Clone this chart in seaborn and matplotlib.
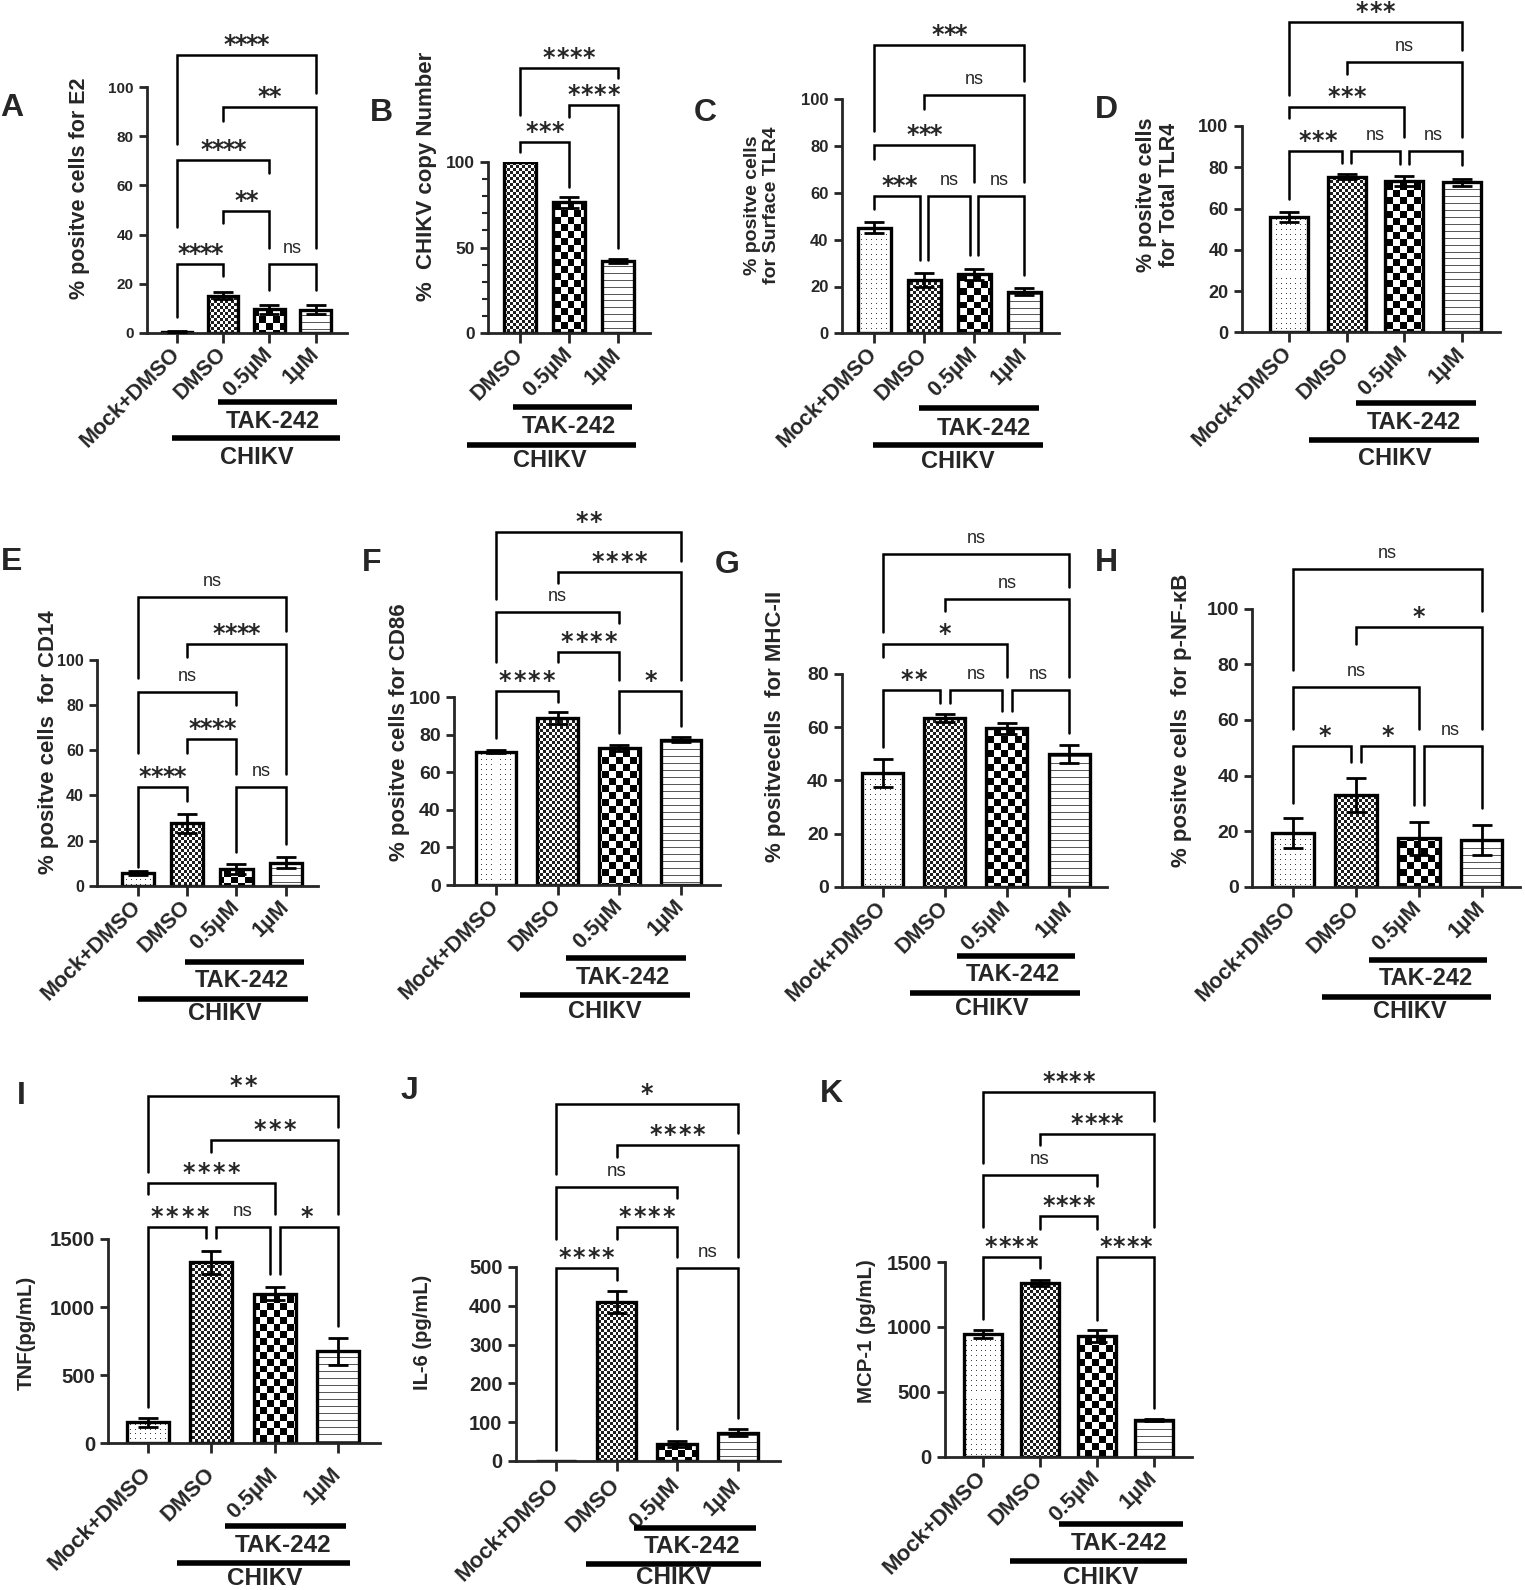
import numpy as np
import matplotlib
matplotlib.use('Agg')
import matplotlib.pyplot as plt
from matplotlib.transforms import ScaledTranslation
from matplotlib.ticker import MultipleLocator
import seaborn as sns

# groups on the x axis
groups4 = ['Mock+DMSO', 'DMSO', '0.5µM', '1µM']
groups3 = ['DMSO', '0.5µM', '1µM']

# values (mean and error bar)
e2_mean = [0.3, 15.2, 9.6, 9.5]
e2_err = [0.4, 1.4, 1.8, 1.8]
chikv_mean = [100, 76.4, 42.3]
chikv_err = [0, 3.2, 1.2]
stlr4_mean = [45.1, 22.8, 25.2, 17.8]
stlr4_err = [2.3, 2.8, 2.4, 1.4]
ttlr4_mean = [56.0, 75.4, 73.5, 72.7]
ttlr4_err = [2.5, 1.3, 2.4, 1.6]
cd14_mean = [5.5, 27.6, 7.4, 10.2]
cd14_err = [0.8, 4.2, 2.2, 2.4]
cd86_mean = [71.1, 88.8, 73.1, 77.5]
cd86_err = [1.0, 3.2, 1.5, 1.5]
mhc_mean = [42.7, 63.3, 59.6, 49.8]
mhc_err = [5.2, 1.5, 2.1, 3.4]
nfkb_mean = [19.2, 33.0, 17.4, 16.8]
nfkb_err = [5.4, 6.2, 6.0, 5.4]
tnf_mean = [154, 1330, 1099, 677]
tnf_err = [34, 85, 46, 100]
il6_mean = [0, 409, 44, 73]
il6_err = [0, 28, 8, 9]
mcp_mean = [946, 1338, 927, 284]
mcp_err = [33, 22, 46, 8]

# significance brackets: (bar i, bar j, line height, left leg end, right leg end, label)
sig_A = [(0, 1, 28, 6.6, 23, '****'), (2, 3, 28, 17.5, 17.5, 'ns'), (1, 2, 49.6, 44.7, 34.5, '**'),
         (0, 2, 70.3, 43, 65, '****'), (1, 3, 91.9, 86, 34.5, '**'), (0, 3, 113, 76.8, 97.7, '****')]
sig_B = [(0, 1, 111.7, 105.8, 85.4, '***'), (1, 2, 133, 125.8, 49.5, '****'), (0, 2, 154.4, 127.2, 148.6, '****')]
sig_C = [(0, 1, 58.8, 53.1, 31.3, '***'), (1, 2, 58.8, 31.3, 33.5, 'ns'), (2, 3, 58.8, 33.5, 24.9, 'ns'),
         (0, 2, 80.5, 74.3, 64.8, '***'), (1, 3, 101.9, 95.9, 64.8, 'ns'), (0, 3, 123.4, 86.5, 108, '***')]
sig_D = [(0, 1, 87.9, 64.5, 81.9, '***'), (1, 2, 87.9, 81.9, 81.4, 'ns'), (2, 3, 87.9, 81.4, 81, 'ns'),
         (0, 2, 109.4, 103.7, 94.5, '***'), (1, 3, 131.2, 125.2, 94.5, 'ns'), (0, 3, 150.6, 115, 136.8, '***')]
sig_E = [(0, 1, 43.9, 8.4, 37.5, '****'), (2, 3, 43.9, 15.1, 18.5, 'ns'), (1, 2, 64.9, 58.9, 49.4, '****'),
         (0, 2, 85.7, 58.9, 80.1, 'ns'), (1, 3, 106.9, 101.2, 49.4, '****'), (0, 3, 128, 91.9, 113, 'ns')]
sig_F = [(0, 1, 103.5, 78.1, 97.7, '****'), (2, 3, 103.5, 80.8, 84.7, '*'), (1, 2, 124.3, 118.6, 109.2, '****'),
         (0, 2, 145.3, 119, 139.4, 'ns'), (1, 3, 166.9, 161.1, 109.2, '****'), (0, 3, 188.2, 152.2, 172.8, '**')]
sig_G = [(0, 1, 74, 52.7, 69.2, '**'), (1, 2, 74, 69.2, 66.1, 'ns'), (2, 3, 74, 66.1, 57.9, 'ns'),
         (0, 2, 91.2, 86.5, 79, '*'), (1, 3, 108.2, 103.7, 79, 'ns'), (0, 3, 125.2, 95.9, 112.9, 'ns')]
sig_H = [(0, 1, 50.7, 30, 45, '*'), (1, 2, 50.7, 45, 29.4, '*'), (2, 3, 50.7, 29.4, 28.2, 'ns'),
         (0, 2, 71.7, 56.6, 56.6, 'ns'), (1, 3, 93.3, 87.2, 56.6, '*'), (0, 3, 114.3, 77.9, 99.3, 'ns')]
sig_I = [(0, 1, 1588, 270, 1505, '****'), (1, 2, 1588, 1505, 1240, 'ns'), (2, 3, 1588, 1240, 862, '*'),
         (0, 2, 1912, 1827, 1686, '****'), (1, 3, 2226, 2141, 1686, '***'), (0, 3, 2548, 1995, 2321, '**')]
sig_J = [(0, 1, 497.5, 29.3, 467, '****'), (2, 3, 497.5, 82.6, 111, 'ns'), (1, 2, 602, 573, 527, '****'),
         (0, 2, 707, 573, 678, 'ns'), (1, 3, 815, 784, 527, '****'), (0, 3, 920, 740, 846, '*')]
sig_K = [(0, 1, 1541, 1062, 1454, '****'), (2, 3, 1541, 1054, 379, '****'), (1, 2, 1852, 1752, 1752, '****'),
         (0, 2, 2171, 1766, 2082, 'ns'), (1, 3, 2487, 2400, 1766, '****'), (0, 3, 2806, 2260, 2590, '****')]

sns.set_style('ticks')
plt.rcParams['font.family'] = ['Liberation Sans', 'DejaVu Sans']
plt.rcParams['axes.linewidth'] = 2.0

W, H = 1525, 1590
fig = plt.figure(figsize=(W / 100, H / 100), dpi=100)

# fill patterns for the four groups
textures = {'Mock+DMSO': 'dots', 'DMSO': 'fine', '0.5µM': 'coarse', '1µM': 'lines'}


def fill_texture(ax, patch, kind):
    h = patch.get_height()
    if h <= 0:
        return
    bb = patch.get_window_extent()
    cols = np.arange(int(bb.x0), int(bb.x1) + 1)
    rows = np.arange(int(bb.y1), int(bb.y0) - 1, -1)
    C, R = np.meshgrid(cols, rows)
    if kind == 'dots':
        img = np.where((C % 5 == 0) & (R % 5 == 0), 0.25, 1.0)
    elif kind == 'fine':
        img = np.where(((C // 3) + (R // 3)) % 2 == 0, 0.12, 1.0)
    elif kind == 'coarse':
        img = np.where(((C // 7) + (R // 7)) % 2 == 0, 0.0, 1.0)
    else:
        img = np.where(R % 7 == 0, 0.35, 1.0)
    x0 = patch.get_x()
    im = ax.imshow(img, extent=(x0, x0 + patch.get_width(), 0, h), origin='upper',
                   cmap='gray', vmin=0, vmax=1, interpolation='nearest', aspect='auto', zorder=1.5)
    im.set_clip_path(patch)


def below(ax, dy):
    return ax.get_xaxis_transform() + ScaledTranslation(0, -dy / 100, fig.dpi_scale_trans)


def draw_panel(p):
    l, r, t, b = p['rect']
    ax = fig.add_axes([l / W, 1 - b / H, (r - l) / W, (b - t) / H])
    cats = p['cats']
    n = len(cats)
    sns.barplot(x=cats, y=p['mean'], order=cats, color='white', edgecolor='black',
                linewidth=2.4, width=0.66, errorbar=None, ax=ax)
    ax.set_xlim(*p['xlim'])
    ax.set_ylim(0, p['ymax'])
    for patch, c in zip(ax.patches, cats):
        patch.set_facecolor('none')
        patch.set_zorder(2)
        fill_texture(ax, patch, textures[c])
    idx = [k for k in range(n) if p['err'][k] > 0]
    ax.errorbar(idx, [p['mean'][k] for k in idx], yerr=[p['err'][k] for k in idx], fmt='none',
                ecolor='black', elinewidth=2.0, capsize=7, capthick=2.0, zorder=3)
    ax.set_xlim(*p['xlim'])
    ax.set_ylim(0, p['ymax'])
    ax.set_yticks(p['yticks'])
    if p.get('minor'):
        ax.yaxis.set_minor_locator(MultipleLocator(p['minor']))
        ax.tick_params(axis='y', which='minor', length=4, width=1.5)
    ax.tick_params(axis='y', which='major', length=6, width=2, labelsize=p['tsize'])
    ax.tick_params(axis='x', length=7, width=2, pad=p.get('xpad', 6))
    for lab in ax.get_yticklabels():
        lab.set_fontweight('bold')
    ax.set_xticks(range(n))
    ax.set_xticklabels(cats, fontsize=p.get('xsize', 15.5), fontweight='bold', rotation=45,
                       ha='right', va='center', rotation_mode='anchor')
    ax.set_xlabel('')
    ax.set_ylabel('')
    sns.despine(ax=ax)

    # brackets
    for (i, j, lev, lb, rb, lab) in p['sig']:
        xi, xj = float(i), float(j)
        for (i2, j2, lev2, _a, _b, _c) in p['sig']:
            if lev2 == lev and j2 == i:
                xi = i + 0.08
            if lev2 == lev and i2 == j:
                xj = j - 0.08
        ax.plot([xi, xi, xj, xj], [lb, lev, lev, rb], color='black', lw=1.8, clip_on=False,
                solid_joinstyle='miter')
        xc = (i + j) / 2
        if lab == 'ns':
            ax.annotate('ns', (xc, lev), xytext=(0, 11), textcoords='offset pixels', ha='center',
                        va='baseline', fontsize=p.get('nssize', 13), annotation_clip=False)
        else:
            m = len(lab)
            for k in range(m):
                ax.annotate('*', (xc, lev), xytext=((k - (m - 1) / 2) * p['pitch'], 3),
                            textcoords='offset pixels', ha='center', va='baseline', fontsize=17,
                            fontweight='bold', family='DejaVu Sans', annotation_clip=False)

    # group lines under the axis
    x0, x1, dy = p['tak']
    ax.plot([x0, x1], [0, 0], transform=below(ax, dy), color='black', lw=4, clip_on=False,
            solid_capstyle='butt')
    xt, dyt = p['tak_txt']
    ax.text(xt, 0, 'TAK-242', transform=below(ax, dyt), ha='center', va='center',
            fontsize=p.get('gsize', 17), fontweight='bold')
    x0, x1, dy = p['chik']
    ax.plot([x0, x1], [0, 0], transform=below(ax, dy), color='black', lw=4, clip_on=False,
            solid_capstyle='butt')
    xt, dyt = p['chik_txt']
    ax.text(xt, 0, 'CHIKV', transform=below(ax, dyt), ha='center', va='center',
            fontsize=p.get('gsize', 17), fontweight='bold')

    yx, yy = p['ylab_xy']
    fig.text(yx / W, 1 - yy / H, p['ylabel'], rotation=90, ha='center', va='center',
             fontsize=p['ylab_size'], fontweight='bold', multialignment='center', linespacing=1.15)
    lx, ly = p['letter_xy']
    fig.text(lx / W, 1 - ly / H, p['letter'], ha='center', va='center', fontsize=23,
             fontweight='bold')


pct = list(range(0, 101, 20))
panels = [
    dict(letter='A', letter_xy=(12, 108), rect=(146.7, 346.7, 87, 333), xlim=(-0.65, 3.67),
         cats=groups4, mean=e2_mean, err=e2_err, ymax=100, yticks=pct, tsize=11,
         ylabel='% positve cells for E2', ylab_xy=(80, 188), ylab_size=15.5, sig=sig_A, pitch=11,
         tak=(0.89, 3.46, 69), tak_txt=(2.08, 88), chik=(-0.11, 3.53, 105), chik_txt=(1.73, 124)),
    dict(letter='B', letter_xy=(381.7, 113.3), rect=(488, 650, 161.7, 333.3), xlim=(-0.66, 2.66),
         cats=groups3, mean=chikv_mean, err=chikv_err, ymax=100, yticks=[0, 50, 100], minor=10,
         tsize=12.5, ylabel='%  CHIKV copy Number', ylab_xy=(426.7, 176.7), ylab_size=16, sig=sig_B,
         pitch=13.3, tak=(-0.14, 2.29, 74), tak_txt=(0.99, 93), chik=(-1.1, 2.38, 112),
         chik_txt=(0.6, 127)),
    dict(letter='C', letter_xy=(705, 113), rect=(841.7, 1059.3, 99.3, 333.3), xlim=(-0.65, 3.7),
         cats=groups4, mean=stlr4_mean, err=stlr4_err, ymax=100, yticks=pct, tsize=12,
         ylabel='% positve cells\nfor Surface TLR4', ylab_xy=(761.7, 205), ylab_size=14, sig=sig_C,
         pitch=11.7, tak=(0.9, 3.3, 75), tak_txt=(2.19, 95), chik=(-0.03, 3.37, 112),
         chik_txt=(1.68, 128)),
    dict(letter='D', letter_xy=(1106.7, 110), rect=(1241.7, 1500, 126, 332.3), xlim=(-0.82, 3.66),
         cats=groups4, mean=ttlr4_mean, err=ttlr4_err, ymax=100, yticks=pct, tsize=13,
         ylabel='% positve cells\nfor Total TLR4', ylab_xy=(1158, 195), ylab_size=15.5, sig=sig_D,
         pitch=13.3, tak=(1.17, 3.25, 71), tak_txt=(2.16, 90), chik=(0.35, 3.3, 108),
         chik_txt=(1.84, 126)),
    dict(letter='E', letter_xy=(12, 561.7), rect=(97, 318.3, 660, 885.7), xlim=(-0.83, 3.66),
         cats=groups4, mean=cd14_mean, err=cd14_err, ymax=100, yticks=pct, tsize=11.5,
         ylabel='% positve cells  for CD14', ylab_xy=(48.3, 741.7), ylab_size=16, sig=sig_E,
         pitch=11.7, tak=(0.96, 3.37, 76), tak_txt=(2.1, 95), chik=(0.01, 3.46, 113),
         chik_txt=(1.77, 128)),
    dict(letter='F', letter_xy=(372, 563), rect=(454, 720, 697.3, 885), xlim=(-0.68, 3.63),
         cats=groups4, mean=cd86_mean, err=cd86_err, ymax=100, yticks=pct, tsize=14,
         ylabel='% positve cells for CD86', ylab_xy=(400, 731.7), ylab_size=16, sig=sig_F,
         pitch=14.5, tak=(1.14, 3.08, 73), tak_txt=(2.06, 92), chik=(0.39, 3.15, 110),
         chik_txt=(1.77, 127)),
    dict(letter='G', letter_xy=(726.7, 565), rect=(841.7, 1107, 674, 886.7), xlim=(-0.66, 3.61),
         cats=groups4, mean=mhc_mean, err=mhc_err, ymax=80, yticks=list(range(0, 81, 20)), tsize=14,
         ylabel='% positvecells  for MHC-II', ylab_xy=(775, 726.7), ylab_size=16, sig=sig_G,
         pitch=14, tak=(1.19, 3.1, 69), tak_txt=(2.1, 88), chik=(0.44, 3.17, 106),
         chik_txt=(1.76, 122)),
    dict(letter='H', letter_xy=(1106.7, 563.3), rect=(1252.3, 1520, 608.7, 886.7), xlim=(-0.65, 3.61),
         cats=groups4, mean=nfkb_mean, err=nfkb_err, ymax=100, yticks=pct, tsize=14,
         ylabel='% positve cells  for p-NF-κB', ylab_xy=(1181.7, 720), ylab_size=16, sig=sig_H,
         pitch=14, tak=(1.21, 3.09, 73), tak_txt=(2.12, 92), chik=(0.46, 3.15, 110),
         chik_txt=(1.85, 125)),
    dict(letter='I', letter_xy=(21, 1096), rect=(108.5, 380.3, 1239, 1443.4), xlim=(-0.625, 3.67),
         cats=groups4, mean=tnf_mean, err=tnf_err, ymax=1500, yticks=[0, 500, 1000, 1500], tsize=14.7,
         ylabel='TNF(pg/mL)', ylab_xy=(26.3, 1333), ylab_size=14.7, sig=sig_I, pitch=15.2,
         xsize=16, gsize=17.5, nssize=13.5, xpad=13,
         tak=(1.21, 3.13, 83), tak_txt=(2.13, 102), chik=(0.46, 3.19, 120), chik_txt=(1.85, 135)),
    dict(letter='J', letter_xy=(409, 1091.3), rect=(515.7, 780, 1267, 1460.9), xlim=(-0.665, 3.7),
         cats=groups4, mean=il6_mean, err=il6_err, ymax=500, yticks=list(range(0, 501, 100)), tsize=14.5,
         ylabel='IL-6 (pg/mL)', ylab_xy=(422.7, 1332.4), ylab_size=14.5, sig=sig_J, pitch=14.5,
         xsize=16, gsize=17.5, nssize=13.5, xpad=8,
         tak=(1.29, 3.31, 67), tak_txt=(2.25, 86), chik=(0.49, 3.39, 103), chik_txt=(1.94, 117)),
    dict(letter='K', letter_xy=(831, 1094.4), rect=(944.9, 1191.5, 1262, 1456.7), xlim=(-0.66, 3.65),
         cats=groups4, mean=mcp_mean, err=mcp_err, ymax=1500, yticks=[0, 500, 1000, 1500], tsize=14.7,
         ylabel='MCP-1 (pg/mL)', ylab_xy=(866, 1331.2), ylab_size=14.7, sig=sig_K, pitch=13.4,
         xsize=16, gsize=17.5, nssize=13.5,
         tak=(1.33, 3.51, 67), tak_txt=(2.38, 87), chik=(0.47, 3.57, 104), chik_txt=(2.07, 121)),
]

for p in panels:
    draw_panel(p)

fig.savefig('out.png', dpi=100)
